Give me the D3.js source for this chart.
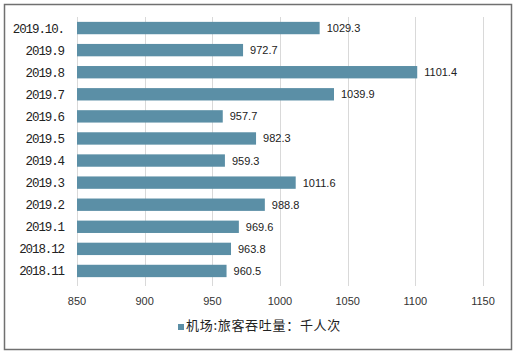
<!DOCTYPE html>
<html>
<head>
  <meta charset="utf-8">
  <script src="https://cdn.jsdelivr.net/npm/d3@7"></script>
  <style>
    body { margin: 0; background: #fff; }
  </style>
</head>
<body>
  <svg width="516" height="353" id="mainsvg"></svg>
  <script>
    // data, top to bottom
    const months = ['2019.10.', '2019.9', '2019.8', '2019.7', '2019.6', '2019.5', '2019.4',
      '2019.3', '2019.2', '2019.1', '2018.12', '2018.11'];
    const passengers = [1029.3, 972.7, 1101.4, 1039.9, 957.7, 982.3, 959.3,
      1011.6, 988.8, 969.6, 963.8, 960.5];
    const xTicks = [850, 900, 950, 1000, 1050, 1100, 1150];
    const seriesName = '机场:旅客吞吐量：千人次';

    const svg = d3.select('#mainsvg');
    const width = +svg.attr('width');
    const height = +svg.attr('height');
    const margin = { top: 17, right: 33, bottom: 71, left: 77 };
    const innerWidth = width - margin.left - margin.right;
    const innerHeight = height - margin.top - margin.bottom;
    const barColor = '#5b8fa6';

    // outer frame
    svg.append('rect')
      .attr('x', 4.5).attr('y', 4.5)
      .attr('width', width - 9).attr('height', height - 8)
      .attr('fill', 'none').attr('stroke', '#707070').attr('stroke-width', 1.5);

    const g = svg.append('g')
      .attr('transform', `translate(${margin.left}, ${margin.top})`);

    const xScale = d3.scaleLinear().domain([850, 1150]).range([0, innerWidth]);
    const yScale = d3.scaleBand().domain(months).range([0, innerHeight]).paddingInner(0.44).paddingOuter(0.22);

    // gridlines
    g.selectAll('.grid').data(xTicks).join('line').attr('class', 'grid')
      .attr('x1', d => Math.round(xScale(d)) + 0.5).attr('x2', d => Math.round(xScale(d)) + 0.5)
      .attr('y1', 0).attr('y2', innerHeight + 4)
      .attr('stroke', '#d9d9d9').attr('stroke-width', 1);

    // tick labels
    g.selectAll('.xlab').data(xTicks).join('text').attr('class', 'xlab')
      .attr('x', d => xScale(d)).attr('y', innerHeight + 23)
      .attr('text-anchor', 'middle')
      .attr('font-family', 'Liberation Sans, Arial, sans-serif').attr('font-size', 11)
      .attr('fill', '#333').text(d => d);

    // bars
    g.selectAll('.bar').data(passengers).join('rect').attr('class', 'bar')
      .attr('x', 0)
      .attr('y', (d, i) => yScale(months[i]))
      .attr('width', d => xScale(d))
      .attr('height', yScale.bandwidth())
      .attr('fill', barColor);

    // value labels
    g.selectAll('.val').data(passengers).join('text').attr('class', 'val')
      .attr('x', d => xScale(d) + 7)
      .attr('y', (d, i) => yScale(months[i]) + yScale.bandwidth() / 2 + 4)
      .attr('font-family', 'Liberation Sans, Arial, sans-serif').attr('font-size', 11)
      .attr('fill', '#222').text(d => d.toFixed(1));

    // category labels
    g.selectAll('.cat').data(months).join('text').attr('class', 'cat')
      .attr('x', -13)
      .attr('y', d => yScale(d) + yScale.bandwidth() / 2 + 4.5)
      .attr('text-anchor', 'end')
      .attr('font-family', 'Liberation Mono, monospace').attr('font-size', 12.5)
      .attr('letter-spacing', -1.1)
      .attr('fill', '#222').text(d => d);

    // legend
    const legend = svg.append('g').attr('transform', 'translate(178, 330)');
    legend.append('rect').attr('x', 0).attr('y', -6).attr('width', 6).attr('height', 6).attr('fill', barColor);
    legend.append('text').attr('x', 8).attr('y', 0)
      .attr('font-family', 'Noto Sans CJK SC, sans-serif').attr('font-size', 13)
      .attr('letter-spacing', 0.7)
      .attr('fill', '#222').text(seriesName);
  </script>
</body>
</html>
